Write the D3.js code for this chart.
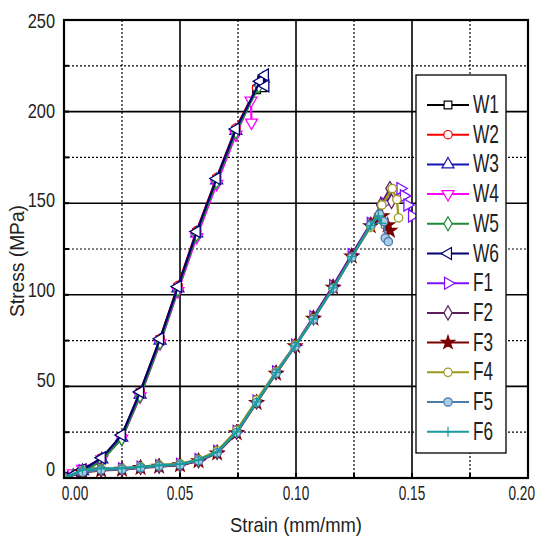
<!DOCTYPE html>
<html><head><meta charset="utf-8">
<script src="https://cdn.jsdelivr.net/npm/d3@7/dist/d3.min.js"></script>
<style>
html,body{margin:0;padding:0;background:#fff;}
svg{display:block;font-family:"Liberation Sans Narrow","Arial Narrow","Liberation Sans",Arial,sans-serif;}
</style></head>
<body><svg id="c" width="541" height="537"></svg>
<script>
// ---- data (strain mm/mm, stress MPa) ----
const W1 = [[0,0],[0.004,1.5],[0.008,4],[0.0163,10.5],[0.0249,22.5],[0.0328,46.5],[0.0414,75.5],[0.0491,104],[0.0572,134],[0.0658,163],[0.0741,190],[0.0830,212],[0.0852,217],[0.0856,213]];
const W2 = [[0,0],[0.004,1.8],[0.008,4.2],[0.0163,11],[0.0249,23],[0.0328,47],[0.0414,76],[0.0491,105],[0.0572,135],[0.0658,164],[0.0741,191],[0.0830,213]];
const W3 = [[0,0],[0.004,1.2],[0.008,3.8],[0.0163,10.2],[0.0249,22],[0.0328,45.5],[0.0414,75],[0.0491,103.5],[0.0572,133.5],[0.0658,162.5],[0.0741,189.5],[0.0845,216],[0.0858,218]];
const W4 = [[0,0],[0.004,2.5],[0.008,5],[0.0163,10.2],[0.0249,21.5],[0.0328,44.5],[0.0414,73.5],[0.0491,102],[0.0572,131.5],[0.0658,160.5],[0.0741,187.5],[0.0806,206],[0.0808,194]];
const W5 = [[0,0],[0.004,1],[0.008,3],[0.0163,9.5],[0.0249,21.5],[0.0328,45],[0.0414,74],[0.0491,103],[0.0572,133],[0.0658,162],[0.0741,189],[0.0840,214]];
const W6 = [[0,0],[0.004,1.6],[0.008,4.5],[0.0163,11],[0.0249,23.5],[0.0328,47],[0.0414,76],[0.0491,104.5],[0.0572,134.5],[0.0658,163.5],[0.0741,190.5],[0.0845,216.5],[0.0866,220],[0.0868,214]];
const F1 = [[0,0],[0.008,4],[0.016,4.8],[0.025,5],[0.033,6],[0.041,6.8],[0.050,7.5],[0.058,10],[0.066,14.5],[0.0744,25.5],[0.083,42],[0.0914,58],[0.0996,72.5],[0.1075,88],[0.116,105],[0.124,122],[0.1322,139],[0.138,150],[0.1425,156],[0.145,158],[0.1465,154],[0.148,149],[0.150,143]];
const F2 = [[0,0],[0.008,3.5],[0.016,4.5],[0.025,4.8],[0.033,5.8],[0.041,6.5],[0.050,7.2],[0.058,9.5],[0.066,14],[0.0744,25],[0.083,41.5],[0.0914,57.5],[0.0996,72],[0.1075,87.5],[0.116,104.5],[0.124,121.5],[0.1322,138.5],[0.1365,149],[0.1405,158],[0.1412,151]];
const F3 = [[0,0],[0.008,3],[0.016,4.2],[0.025,4.6],[0.033,5.5],[0.041,6.2],[0.050,7],[0.058,9.2],[0.066,13.5],[0.0744,24.5],[0.083,41],[0.0914,57],[0.0996,72],[0.1075,87],[0.116,104],[0.124,121],[0.1322,137.5],[0.1370,143],[0.1395,138],[0.1405,135]];
const F4 = [[0,0],[0.008,3.8],[0.016,5],[0.025,5.2],[0.033,6.2],[0.041,7],[0.050,7.8],[0.058,10.2],[0.066,14.8],[0.0744,26],[0.083,42.5],[0.0914,58],[0.0996,72.5],[0.1075,87],[0.116,103.5],[0.124,120.5],[0.1322,137],[0.137,149],[0.1415,158],[0.1435,152],[0.1442,142]];
const F5 = [[0,0],[0.008,3.2],[0.016,4.4],[0.025,4.7],[0.033,5.6],[0.041,6.4],[0.050,7.1],[0.058,9.4],[0.066,13.8],[0.0744,24.8],[0.083,41.2],[0.0914,57.2],[0.0996,71.8],[0.1075,86.5],[0.116,103.5],[0.124,120.5],[0.1322,138],[0.136,144],[0.1378,140],[0.1385,131],[0.1398,129]];
const F6 = [[0,0],[0.008,4.5],[0.016,5.2],[0.025,5.3],[0.033,6.2],[0.041,6.9],[0.050,7.6],[0.058,9.8],[0.066,14.2],[0.0744,25.2],[0.083,41.5],[0.0914,57.5],[0.0996,72],[0.1075,86.8],[0.116,103.8],[0.124,120.8],[0.1322,137.8],[0.1355,143],[0.1368,139]];

const seriesNames = ["W1","W2","W3","W4","W5","W6","F1","F2","F3","F4","F5","F6"];
const seriesData = [W1,W2,W3,W4,W5,W6,F1,F2,F3,F4,F5,F6];
const seriesColors = ["#000000","#ff0000","#1414b4","#ff00ff","#1f8a3a","#000070","#7f10ff","#5c1f5c","#7a0000","#9a9a1a","#4a7aa8","#1a9a9a"];
const seriesMarkers = ["square","circle","triUp","triDown","diamond","triLeft","triRight","diamond","star","circle","circleFill","plus"];

const xTicks = [0,0.05,0.10,0.15,0.20];
const xMinor = [0.025,0.075,0.125,0.175];
const yTicks = [0,50,100,150,200,250];
const yMinor = [25,75,125,175,225];

// ---- layout ----
const svg = d3.select("#c");
const L=64,R=528,T=20,B=478;
const x = d3.scaleLinear().domain([0,0.2]).range([L,R]);
const y = d3.scaleLinear().domain([0,250]).range([B,T]);
const yLab = d3.scaleLinear().domain([0,250]).range([469,21]);

svg.append("rect").attr("x",L).attr("y",T).attr("width",R-L).attr("height",B-T).attr("fill","#fff");

const g = svg.append("g");
// grid
g.selectAll(".gxm").data(xMinor).join("line").attr("x1",d=>x(d)).attr("x2",d=>x(d)).attr("y1",T).attr("y2",B)
 .attr("stroke","#000").attr("stroke-width",1.2).attr("stroke-dasharray","2,2");
g.selectAll(".gym").data(yMinor).join("line").attr("y1",d=>y(d)).attr("y2",d=>y(d)).attr("x1",L).attr("x2",R)
 .attr("stroke","#000").attr("stroke-width",1.2).attr("stroke-dasharray","2,2");
g.selectAll(".gx").data(xTicks.slice(1,-1)).join("line").attr("x1",d=>x(d)).attr("x2",d=>x(d)).attr("y1",T).attr("y2",B)
 .attr("stroke","#000").attr("stroke-width",1.6);
g.selectAll(".gy").data(yTicks.slice(1,-1)).join("line").attr("y1",d=>y(d)).attr("y2",d=>y(d)).attr("x1",L).attr("x2",R)
 .attr("stroke","#000").attr("stroke-width",1.6);
// inward ticks
g.selectAll(".tx").data(xTicks.concat(xMinor)).join("line").attr("x1",d=>x(d)).attr("x2",d=>x(d)).attr("y1",B).attr("y2",B-5)
 .attr("stroke","#000").attr("stroke-width",2);
g.selectAll(".ty").data(yTicks.concat(yMinor)).join("line").attr("y1",d=>y(d)).attr("y2",d=>y(d)).attr("x1",L).attr("x2",L+5)
 .attr("stroke","#000").attr("stroke-width",2);

// clip
svg.append("clipPath").attr("id","clip").append("rect").attr("x",L).attr("y",T).attr("width",R-L).attr("height",B-T);

function markerPath(type){
  const s = d3.symbol();
  switch(type){
    case "square": return {d:s.type(d3.symbolSquare).size(60)(), rot:0};
    case "circle": case "circleFill": return {d:s.type(d3.symbolCircle).size(55)(), rot:0};
    case "triUp": return {d:s.type(d3.symbolTriangle).size(62)(), rot:0};
    case "triDown": return {d:s.type(d3.symbolTriangle).size(62)(), rot:180};
    case "triLeft": return {d:s.type(d3.symbolTriangle).size(62)(), rot:-90};
    case "triRight": return {d:s.type(d3.symbolTriangle).size(62)(), rot:90};
    case "diamond": return {d:s.type(d3.symbolDiamond).size(58)(), rot:0};
    case "star": return {d:s.type(d3.symbolStar).size(55)(), rot:0};
    case "plus": return {d:"M-5,0H5M0,-5V5", rot:0};
  }
}
function markerFill(type,color){
  if(type==="star") return color;
  if(type==="circleFill") return "#a8cce8";
  if(type==="plus") return "none";
  return "#fff";
}

const line = d3.line().x(d=>x(d[0])).y(d=>y(d[1]));
const plot = svg.append("g").attr("clip-path","url(#clip)");
seriesData.forEach((data,i)=>{
  const c = seriesColors[i];
  const sg = plot.append("g");
  sg.append("path").datum(data).attr("d",line).attr("fill","none").attr("stroke",c).attr("stroke-width",2.2).attr("stroke-linejoin","round");
  const m = markerPath(seriesMarkers[i]);
  sg.selectAll("path.mk").data(data).join("path").attr("class","mk")
    .attr("d",m.d).attr("transform",d=>`translate(${x(d[0])},${y(d[1])}) rotate(${m.rot})`)
    .attr("fill",markerFill(seriesMarkers[i],c)).attr("stroke",c).attr("stroke-width",1.3);
});

// frame
svg.append("rect").attr("x",L).attr("y",T).attr("width",R-L).attr("height",B-T).attr("fill","none").attr("stroke","#000").attr("stroke-width",2.2);

// tick labels (narrowed horizontally to mimic the condensed original font)
const fmtX = d3.format(".2f");
const last = xTicks[xTicks.length-1];
svg.selectAll(".xl").data(xTicks).join("g")
  .attr("transform",d=>`translate(${d===last ? x(d)+7 : x(d)+(d===0?11:0)},500) scale(0.68,1)`)
  .append("text")
  .attr("text-anchor",d=>d===last?"end":"middle")
  .attr("font-size",20).attr("fill","#222").text(d=>fmtX(d));
svg.selectAll(".yl").data(yTicks).join("g")
  .attr("transform",d=>`translate(55,${yLab(d)}) scale(0.82,1)`)
  .append("text").attr("dy","0.36em").attr("text-anchor","end")
  .attr("font-size",20).attr("fill","#222").text(d=>String(d));

// axis titles
svg.append("text").attr("x",296).attr("y",532).attr("text-anchor","middle").attr("font-size",21).attr("fill","#222")
  .attr("textLength",132).attr("lengthAdjust","spacingAndGlyphs").text("Strain (mm/mm)");
svg.append("text").attr("transform","translate(24,261) rotate(-90)").attr("text-anchor","middle").attr("font-size",21).attr("fill","#222")
  .attr("textLength",112).attr("lengthAdjust","spacingAndGlyphs").text("Stress (MPa)");

// legend
const lg = svg.append("g");
lg.append("rect").attr("x",416).attr("y",75).attr("width",90).attr("height",378).attr("fill","#fff").attr("stroke","#000").attr("stroke-width",1.3);
seriesNames.forEach((name,i)=>{
  const ly = 105 + i*29.7;
  const c = seriesColors[i];
  lg.append("line").attr("x1",427).attr("x2",469).attr("y1",ly).attr("y2",ly).attr("stroke",c).attr("stroke-width",2);
  const m = markerPath(seriesMarkers[i]);
  lg.append("path").attr("d",m.d).attr("transform",`translate(448,${ly}) rotate(${m.rot})`)
    .attr("fill",markerFill(seriesMarkers[i],c)).attr("stroke",c).attr("stroke-width",1.2);
  lg.append("text").attr("x",473).attr("y",ly+8).attr("font-size",25).attr("fill","#222")
    .attr("textLength",name[0]==="W"?26:20).attr("lengthAdjust","spacingAndGlyphs").text(name);
});
</script></body></html>
